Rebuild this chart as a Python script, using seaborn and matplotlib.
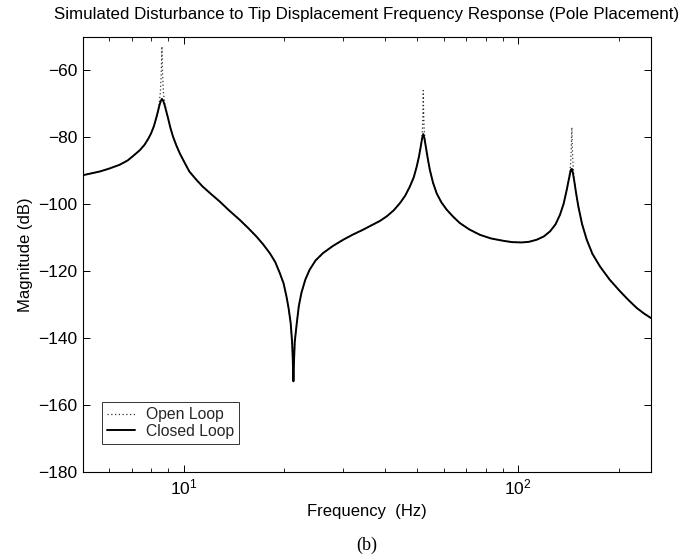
import numpy as np
import pandas as pd
import matplotlib
matplotlib.use("Agg")
import matplotlib.pyplot as plt
import matplotlib.ticker as mticker
import seaborn as sns

# ---- data (frequency in Hz, magnitude in dB) ----
closed_freq = [5.0, 5.61, 6.0, 6.43, 6.8, 7.13, 7.4, 7.64, 7.85, 8.0, 8.15, 8.28,
               8.38, 8.47, 8.54, 8.61, 8.68, 8.77, 8.98, 9.12, 9.29, 9.5, 9.73,
               10.0, 10.4, 10.9, 11.4, 12.1, 12.8, 13.7, 14.7, 15.6, 16.5, 17.3,
               18.1, 18.8, 19.4, 19.9, 20.3, 20.6, 20.9, 21.1, 21.2, 21.3, 21.4,
               21.5, 21.8, 22.1, 22.5, 23.1, 23.8, 24.8, 26.1, 28.0, 30.0, 32.0,
               34.4, 36.1, 38.6, 40.5, 42.5, 44.4, 46.0, 47.5, 48.8, 49.8, 50.6,
               51.2, 51.7, 52.1, 52.5, 53.0, 53.7, 54.5, 55.7, 57.1, 59.0, 61.2,
               64.0, 67.0, 71.5, 76.9, 83.0, 90.3, 96.0, 102.6, 108.0, 113.7,
               119.5, 124.7, 129.5, 133.6, 137.0, 139.9, 141.8, 143.2, 144.1,
               144.9, 145.8, 147.2, 149.2, 151.6, 155.5, 160.6, 167.0, 176.0,
               188.0, 202.0, 214.0, 226.7, 238.0, 250.0]
closed_db = [-91.3, -90.2, -89.3, -88.2, -86.9, -85.2, -83.8, -82.2, -80.3, -78.7,
             -76.6, -74.2, -72.2, -70.3, -69.2, -68.5, -69.0, -70.3, -74.2, -77.0,
             -79.7, -82.3, -84.7, -87.0, -90.2, -92.6, -94.7, -97.0, -99.1,
             -101.9, -104.6, -107.1, -109.6, -112.0, -114.6, -117.3, -120.6,
             -123.6, -127.5, -131.0, -135.5, -141.0, -146.0, -152.9, -146.0,
             -141.0, -135.5, -130.5, -126.5, -122.6, -119.6, -116.8, -114.6,
             -112.4, -110.6, -109.1, -107.6, -106.5, -105.0, -103.6, -101.8,
             -99.6, -97.4, -94.7, -91.9, -88.7, -85.6, -82.7, -80.2, -79.0,
             -80.3, -82.7, -86.2, -89.7, -93.5, -96.7, -99.4, -101.6, -103.7,
             -105.6, -107.5, -109.1, -110.2, -110.9, -111.3, -111.4, -111.2,
             -110.6, -109.6, -108.1, -106.0, -103.1, -99.8, -95.7, -92.8, -90.7,
             -89.6, -89.4, -90.3, -92.7, -96.6, -100.7, -105.9, -110.6, -114.8,
             -118.6, -122.5, -126.0, -128.6, -131.0, -132.6, -134.0]

# open loop differs only at the three lightly damped resonances
open_peak_freq = [8.45, 8.52, 8.57, 8.61, 8.65, 8.70, 8.78,
                  51.55, 51.8, 52.0, 52.1, 52.2, 52.4, 52.7,
                  142.9, 143.7, 144.4, 144.9, 145.4, 146.1, 146.9]
open_peak_db = [-69.8, -66.5, -61.0, -52.8, -61.0, -66.5, -69.8,
                -80.6, -77.5, -72.0, -66.0, -72.0, -77.5, -80.6,
                -90.5, -88.0, -83.0, -77.0, -83.0, -88.0, -91.0]
peak_windows = [(8.44, 8.79), (51.5, 52.8), (142.5, 147.0)]

series_labels = ["Open Loop", "Closed Loop"]
x_ticks = [10, 100]
y_ticks = [-180, -160, -140, -120, -100, -80, -60]

# ---- build tables ----
closed_df = pd.DataFrame({"freq": closed_freq, "db": closed_db})
keep = ~np.zeros(len(closed_df), dtype=bool)
for lo, hi in peak_windows:
    keep &= ~((closed_df["freq"] >= lo) & (closed_df["freq"] <= hi))
open_df = pd.concat([closed_df[keep],
                     pd.DataFrame({"freq": open_peak_freq, "db": open_peak_db})])
open_df = open_df.sort_values("freq").reset_index(drop=True)

# ---- style ----
sns.set_theme(style="white")
plt.rcParams["font.family"] = ["Liberation Sans", "DejaVu Sans"]
plt.rcParams["axes.edgecolor"] = "black"
plt.rcParams["axes.linewidth"] = 0.8
plt.rcParams["xtick.direction"] = "in"
plt.rcParams["ytick.direction"] = "in"

fig = plt.figure(figsize=(7.0, 5.55), dpi=100)
ax = fig.add_axes([83 / 700, 1 - 472 / 555, (651 - 83) / 700, (472 - 37) / 555])

sns.lineplot(data=open_df, x="freq", y="db", ax=ax, color="#333333",
             linestyle=(0, (1, 2)), linewidth=0.9, estimator=None,
             label=series_labels[0])
sns.lineplot(data=closed_df, x="freq", y="db", ax=ax, color="black",
             linewidth=1.4, estimator=None, label=series_labels[1])

ax.set_xscale("log")
ax.set_xlim(5, 250)
ax.set_ylim(-180, -50)
ax.set_xticks(x_ticks)
ax.xaxis.set_major_formatter(mticker.LogFormatterSciNotation())
ax.xaxis.set_minor_formatter(mticker.NullFormatter())
ax.set_yticks(y_ticks)
ax.yaxis.set_major_formatter(mticker.FuncFormatter(
    lambda v, p: f"\u2212{abs(int(v))}" if v < 0 else f"{int(v)}"))

ax.tick_params(axis="both", which="both", top=True, right=True, bottom=True, left=True,
               color="black", labelsize=12.5, labelcolor="black")
ax.tick_params(axis="both", which="major", length=5, width=0.7, pad=4)
ax.tick_params(axis="x", which="minor", length=3, width=0.6)
for s in ax.spines.values():
    s.set_visible(True)
    s.set_color("black")

ax.set_xlabel("Frequency  (Hz)", fontsize=12, color="black", labelpad=5)
ax.set_ylabel("Magnitude (dB)", fontsize=12, color="black", labelpad=4)
ax.set_title("Simulated Disturbance to Tip Displacement Frequency Response (Pole Placement)",
             fontsize=12.2, color="black", pad=13)

leg = ax.legend(loc="lower left", bbox_to_anchor=(0.033, 0.064), borderaxespad=0,
                frameon=True, fancybox=False, shadow=False, fontsize=11.3,
                handlelength=1.75, borderpad=0.35, labelspacing=0.1,
                handletextpad=0.7)
leg.get_frame().set_edgecolor("black")
leg.get_frame().set_linewidth(0.7)

fig.text(367 / 700, 1 - 545 / 555, "(b)", ha="center", va="center",
         fontsize=13, family=["Liberation Serif", "DejaVu Serif"], color="black")

fig.savefig("out.png", dpi=100, facecolor="white")
